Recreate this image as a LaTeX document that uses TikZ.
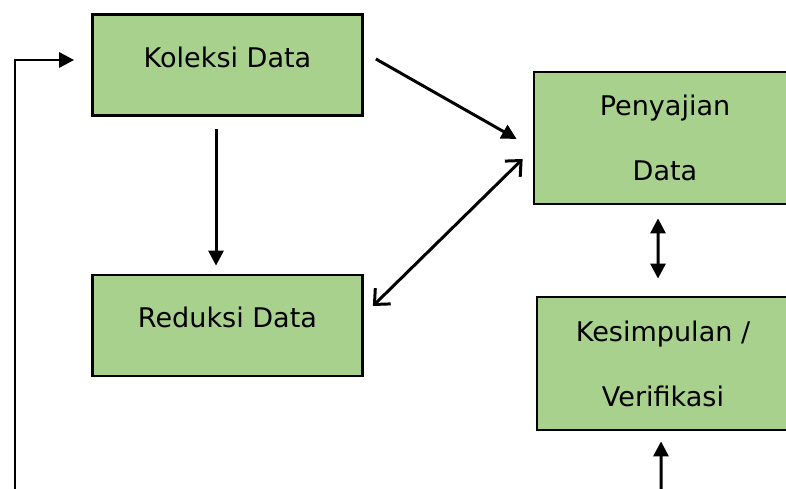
\documentclass[tikz,border=0pt]{standalone}
\usepackage{fontspec}
\setmainfont{DejaVu Sans}
\usetikzlibrary{arrows.meta,positioning,calc}

\definecolor{hijau}{HTML}{A9D18E}

\begin{document}
\begin{tikzpicture}[>={Triangle[length=0.3cm,width=0.3cm]},x=0.02cm,y=-0.02cm,
  font=\fontsize{15.4}{37}\selectfont]
\tikzstyle{blok}=[draw,line width=1.6pt,fill=hijau,align=center]
\tikzstyle{panah}=[line width=1.7pt]
\useasboundingbox (0,0) rectangle (786,489);
\clip (0,0) rectangle (786,489);
\node[blok,minimum width=5.40cm,minimum height=2.02cm,text depth=0.32cm] (koleksi) at (227.5,65) {Koleksi Data};
\node[blok,minimum width=5.40cm,minimum height=2.02cm,text depth=0.32cm] (reduksi) at (227.5,325.5) {Reduksi Data};
\node[blok,minimum width=5.24cm,minimum height=2.64cm] (penyajian) at (665,138) {Penyajian\\Data};
\node[blok,minimum width=5.04cm,minimum height=2.66cm] (kesimpulan) at (663,363.5) {Kesimpulan /\\Verifikasi};
\coordinate (balik) at (15,492);
\coordinate (bawah) at (661,492);
% alur antar tahap
\draw[panah,->] (balik) |- ([xshift=-0.34cm,yshift=0.1cm]koleksi.west);
\draw[panah,->] ([xshift=-0.23cm,yshift=-0.24cm]koleksi.south) -- ([xshift=-0.23cm,yshift=0.16cm]reduksi.north);
\draw[panah,->] ([xshift=0.24cm,yshift=0.12cm]koleksi.east) -- ([xshift=-0.32cm,yshift=-0.02cm]penyajian.west);
\draw[panah,{Straight Barb[length=0.24cm,width=0.44cm]}-{Straight Barb[length=0.24cm,width=0.44cm]}]
  ([xshift=0.18cm,yshift=0.39cm]reduksi.east) -- ([xshift=-0.2cm,yshift=-0.42cm]penyajian.west);
\draw[panah,<->] ([xshift=-0.14cm,yshift=-0.26cm]penyajian.south) -- ([xshift=-0.1cm,yshift=0.34cm]kesimpulan.north);
\draw[panah,->] (bawah) -- ([xshift=-0.04cm,yshift=-0.2cm]kesimpulan.south);
\end{tikzpicture}
\end{document}
